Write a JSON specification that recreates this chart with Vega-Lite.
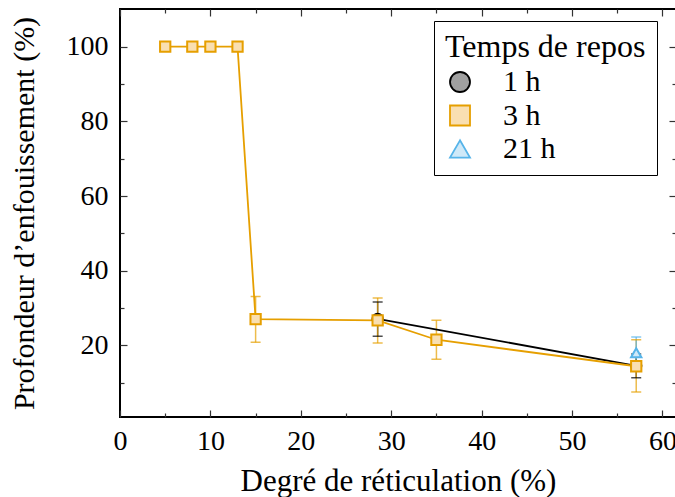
{
  "$schema": "https://vega.github.io/schema/vega-lite/v6.json",
  "width": 556,
  "height": 408,
  "autosize": "none",
  "padding": {"left": 120, "top": 9, "right": 0, "bottom": 80},
  "config": {
    "font": "Liberation Serif",
    "view": {"stroke": "black", "strokeWidth": 2},
    "axis": {
      "domain": false,
      "grid": false,
      "labelFont": "Liberation Serif",
      "titleFont": "Liberation Serif",
      "labelColor": "black",
      "titleColor": "black",
      "labelFontSize": 28,
      "titleFontSize": 30,
      "titleFontWeight": "normal",
      "labelFlush": false,
      "labelOverlap": false,
      "labelBound": false,
      "tickColor": "#333333",
      "tickWidth": 1.2
    },
    "legend": {
      "labelFont": "Liberation Serif",
      "titleFont": "Liberation Serif",
      "titleLimit": 400,
      "labelLimit": 200
    }
  },
  "datasets": {
    "mesures": [
      {"repos": "1 h", "reticulation": 28.5, "profondeur": 27.1, "bas": 22.4, "haut": 31.6},
      {"repos": "1 h", "reticulation": 57.1, "profondeur": 14.5, "bas": 11.3, "haut": 17.7},
      {"repos": "3 h", "reticulation": 5, "profondeur": 100, "bas": null, "haut": null},
      {"repos": "3 h", "reticulation": 8, "profondeur": 100, "bas": null, "haut": null},
      {"repos": "3 h", "reticulation": 10, "profondeur": 100, "bas": null, "haut": null},
      {"repos": "3 h", "reticulation": 13, "profondeur": 100, "bas": null, "haut": null},
      {"repos": "3 h", "reticulation": 15, "profondeur": 27.0, "bas": 20.8, "haut": 33.1},
      {"repos": "3 h", "reticulation": 28.5, "profondeur": 26.7, "bas": 20.6, "haut": 32.7},
      {"repos": "3 h", "reticulation": 35, "profondeur": 21.5, "bas": 16.3, "haut": 26.7},
      {"repos": "3 h", "reticulation": 57.1, "profondeur": 14.4, "bas": 7.5, "haut": 21.5},
      {"repos": "21 h", "reticulation": 57.1, "profondeur": 18.0, "bas": 13.8, "haut": 22.2}
    ]
  },
  "data": {"name": "mesures"},
  "resolve": {"axis": {"x": "independent", "y": "independent"}},
  "layer": [
    {
      "transform": [{"filter": "datum.bas != null"}],
      "mark": {"type": "rule", "strokeWidth": 1.5, "strokeOpacity": 0.7},
      "encoding": {
        "x": {
          "field": "reticulation", "type": "quantitative",
          "scale": {"domain": [0, 61.5], "nice": false, "zero": false},
          "axis": {
            "orient": "bottom",
            "title": "Degré de réticulation (%)",
            "titleFontSize": 31,
            "values": [0, 5, 10, 15, 20, 25, 30, 35, 40, 45, 50, 55, 60],
            "labelExpr": "datum.value % 10 === 0 ? datum.label : ''",
            "tickSize": {"condition": {"test": "datum.value % 10 === 0", "value": -7}, "value": -4},
            "labelPadding": 17,
            "titlePadding": 8
          }
        },
        "y": {
          "field": "bas", "type": "quantitative",
          "scale": {"domain": [0.8, 110.1], "nice": false, "zero": false},
          "axis": {
            "orient": "left",
            "title": "Profondeur d’enfouissement (%)",
            "values": [10, 20, 30, 40, 50, 60, 70, 80, 90, 100],
            "labelExpr": "datum.value % 20 === 0 ? datum.label : ''",
            "tickSize": {"condition": {"test": "datum.value % 20 === 0", "value": -7}, "value": -4},
            "labelPadding": 19,
            "titlePadding": 27
          }
        },
        "y2": {"field": "haut"},
        "stroke": {
          "field": "repos", "type": "nominal",
          "scale": {"domain": ["1 h", "3 h", "21 h"], "range": ["#000000", "#E69F00", "#56B4E9"]}
        }
      }
    },
    {
      "transform": [{"filter": "datum.bas != null"}],
      "mark": {"type": "tick", "orient": "horizontal", "size": 10, "thickness": 0, "strokeWidth": 1.5, "strokeOpacity": 0.7, "fillOpacity": 0},
      "encoding": {
        "x": {"field": "reticulation", "type": "quantitative", "axis": null},
        "y": {"field": "bas", "type": "quantitative", "axis": null},
        "stroke": {"field": "repos", "type": "nominal"}
      }
    },
    {
      "transform": [{"filter": "datum.haut != null"}],
      "mark": {"type": "tick", "orient": "horizontal", "size": 10, "thickness": 0, "strokeWidth": 1.5, "strokeOpacity": 0.7, "fillOpacity": 0},
      "encoding": {
        "x": {"field": "reticulation", "type": "quantitative", "axis": null},
        "y": {"field": "haut", "type": "quantitative", "axis": null},
        "stroke": {"field": "repos", "type": "nominal"}
      }
    },
    {
      "mark": {"type": "line", "strokeWidth": 1.8},
      "encoding": {
        "x": {
          "field": "reticulation", "type": "quantitative",
          "axis": {
            "orient": "top", "labels": false, "title": null,
            "values": [0, 5, 10, 15, 20, 25, 30, 35, 40, 45, 50, 55, 60],
            "tickSize": {"condition": {"test": "datum.value % 10 === 0", "value": -7}, "value": -4}
          }
        },
        "y": {
          "field": "profondeur", "type": "quantitative",
          "axis": {
            "orient": "right", "labels": false, "title": null,
            "values": [10, 20, 30, 40, 50, 60, 70, 80, 90, 100],
            "tickSize": {"condition": {"test": "datum.value % 20 === 0", "value": -7}, "value": -4}
          }
        },
        "stroke": {"field": "repos", "type": "nominal"},
        "order": {"field": "reticulation", "type": "quantitative"}
      }
    },
    {
      "mark": {"type": "point", "size": 106, "strokeWidth": 2, "opacity": 1},
      "encoding": {
        "x": {"field": "reticulation", "type": "quantitative", "axis": null},
        "y": {"field": "profondeur", "type": "quantitative", "axis": null},
        "stroke": {
          "field": "repos", "type": "nominal",
          "legend": {
            "title": "Temps de repos",
            "orient": "none", "legendX": 314, "legendY": 12, "direction": "vertical",
            "fillColor": "white", "strokeColor": "black", "padding": 11,
            "titleFontSize": 32, "titleFontWeight": "normal", "titleColor": "black", "titlePadding": 3,
            "labelFontSize": 30, "labelColor": "black", "labelOffset": 28, "rowPadding": 3.5,
            "symbolSize": 400, "symbolStrokeWidth": 1.8, "symbolOpacity": 1,
            "encode": {
              "symbols": {
                "fill": {
                  "condition": [
                    {"test": "datum.value === '1 h'", "value": "#A0A0A0"},
                    {"test": "datum.value === '3 h'", "value": "#F9DFB1"}
                  ],
                  "value": "#CFE9F8"
                },
                "shape": {
                  "condition": [
                    {"test": "datum.value === '1 h'", "value": "M-1,0H0.78M1.72,0H3.5M0.78,0A0.47,0.47 0 1,0 1.72,0A0.47,0.47 0 1,0 0.78,0Z"},
                    {"test": "datum.value === '3 h'", "value": "M-1,0H0.73M1.77,0H3.5M0.73,-0.52H1.77V0.52H0.73Z"}
                  ],
                  "value": "M-1,0H0.93M1.57,0H3.5M1.25,-0.5L1.85,0.45H0.65Z"
                }
              }
            }
          }
        },
        "fill": {
          "field": "repos", "type": "nominal", "legend": null,
          "scale": {"domain": ["1 h", "3 h", "21 h"], "range": ["#A0A0A0", "#F9DFB1", "#CFE9F8"]}
        },
        "shape": {
          "field": "repos", "type": "nominal", "legend": null,
          "scale": {"domain": ["1 h", "3 h", "21 h"], "range": ["circle", "square", "triangle-up"]}
        }
      }
    }
  ]
}
